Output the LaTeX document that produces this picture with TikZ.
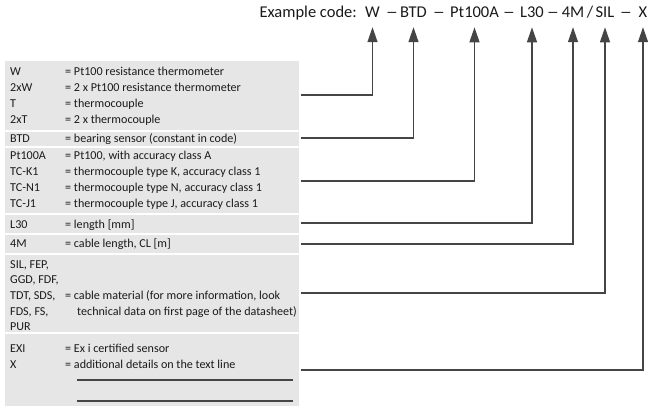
\documentclass[tikz,border=0pt]{standalone}
\usepackage{fontspec}
\setmainfont{Carlito}
\usetikzlibrary{arrows.meta}
\definecolor{boxgray}{HTML}{E6E6E6}
\definecolor{linegray}{HTML}{454545}
\definecolor{txt}{HTML}{1A1A1A}
\newcommand{\cdash}{\scalebox{0.72}[1]{—}}
\begin{document}
\begin{tikzpicture}[x=1pt,y=-1pt,
  row/.style={anchor=base west, inner sep=0pt, font=\fontsize{12.1}{14}\selectfont, text=txt},
  tok/.style={anchor=base, inner sep=0pt, font=\fontsize{16.5}{20}\selectfont, text=txt},
  conn/.style={draw=linegray, line width=1.3pt},
  arr/.style={conn, -{Triangle[length=15pt,width=10pt]}},
  uline/.style={draw=linegray, line width=1.1pt}]
\useasboundingbox (0,0) rectangle (664,418);
% bands
\fill[boxgray] (5,61) rectangle (299,130);
\fill[boxgray] (5,132) rectangle (299,146);
\fill[boxgray] (5,148) rectangle (299,213);
\fill[boxgray] (5,215) rectangle (299,233);
\fill[boxgray] (5,235) rectangle (299,253);
\fill[boxgray] (5,255) rectangle (299,332);
\fill[boxgray] (5,334) rectangle (299,406);
% header
\node[tok, anchor=base east] (ex) at (357,17) {Example code:};
\node[tok] (tW) at (372.5,17) {W};
\node[tok] (d1) at (392,17) {\cdash};
\node[tok] (tBTD) at (413.5,17) {BTD};
\node[tok] (d2) at (439,17) {\cdash};
\node[tok] (tPt) at (474.5,17) {Pt100A};
\node[tok] (d3) at (509,17) {\cdash};
\node[tok] (tL) at (532,17) {L30};
\node[tok] (d4) at (553,17) {\cdash};
\node[tok] (t4M) at (573,17) {4M};
\node[tok] (sl) at (590,17) {/};
\node[tok] (tSIL) at (605,17) {SIL};
\node[tok] (d5) at (626,17) {\cdash};
\node[tok] (tX) at (643,17) {X};
% rows
\node[row] (c1) at (10,75) {W};      \node[row] (e1) at (65,75) {= Pt100 resistance thermometer};
\node[row] (c2) at (10,91) {2xW};    \node[row] (e2) at (65,91) {= 2 x Pt100 resistance thermometer};
\node[row] (c3) at (10,107) {T};     \node[row] (e3) at (65,107) {= thermocouple};
\node[row] (c4) at (10,123) {2xT};   \node[row] (e4) at (65,123) {= 2 x thermocouple};
\node[row] (c5) at (10,142) {BTD};   \node[row] (e5) at (65,142) {= bearing sensor (constant in code)};
\node[row] (c6) at (10,159) {Pt100A};\node[row] (e6) at (65,159) {= Pt100, with accuracy class A};
\node[row] (c7) at (10,175) {TC-K1}; \node[row] (e7) at (65,175) {= thermocouple type K, accuracy class 1};
\node[row] (c8) at (10,191) {TC-N1}; \node[row] (e8) at (65,191) {= thermocouple type N, accuracy class 1};
\node[row] (c9) at (10,207) {TC-J1}; \node[row] (e9) at (65,207) {= thermocouple type J, accuracy class 1};
\node[row] (c10) at (10,228) {L30};  \node[row] (e10) at (65,228) {= length [mm]};
\node[row] (c11) at (10,247) {4M};   \node[row] (e11) at (65,247) {= cable length, CL [m]};
\node[row] (c12) at (10,268) {SIL, FEP,};
\node[row] (c13) at (10,283) {GGD, FDF,};
\node[row] (c14) at (10,299) {TDT, SDS,}; \node[row] (e14) at (65,299) {= cable material (for more information, look};
\node[row] (c15) at (10,315) {FDS, FS,};  \node[row] (e15) at (77,315) {technical data on first page of the datasheet)};
\node[row] (c16) at (10,330) {PUR};
\node[row] (c17) at (10,352) {EXI};  \node[row] (e17) at (65,352) {= Ex i certified sensor};
\node[row] (c18) at (10,368) {X};    \node[row] (e18) at (65,368) {= additional details on the text line};
% blank lines
\coordinate (u1a) at (77,380); \coordinate (u1b) at (293,380);
\coordinate (u2a) at (77,401); \coordinate (u2b) at (293,401);
\draw[uline] (u1a) -- (u1b);
\draw[uline] (u2a) -- (u2b);
% connector starts
\coordinate (sW) at (301,95);
\coordinate (sBTD) at (301,138);
\coordinate (sPt) at (301,181);
\coordinate (sL) at (301,223);
\coordinate (s4M) at (301,244);
\coordinate (sSIL) at (301,293);
\coordinate (sX) at (301,370);
\draw[arr] (sW) -| ([yshift=-10pt]tW.south);
\draw[arr] (sBTD) -| ([yshift=-10pt]tBTD.south);
\draw[arr] (sPt) -| ([yshift=-10pt]tPt.south);
\draw[arr] (sL) -| ([yshift=-10pt]tL.south);
\draw[arr] (s4M) -| ([yshift=-10pt]t4M.south);
\draw[arr] (sSIL) -| ([yshift=-10pt]tSIL.south);
\draw[arr] (sX) -| ([yshift=-10pt]tX.south);
\end{tikzpicture}
\end{document}
